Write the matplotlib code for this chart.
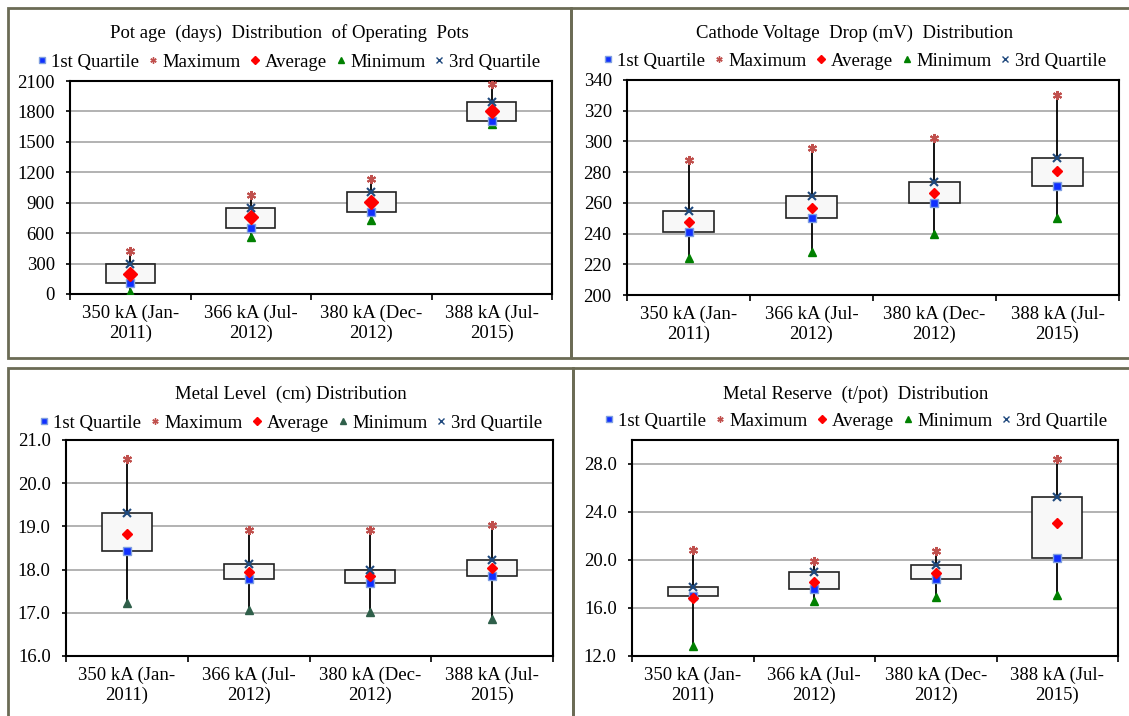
import matplotlib
matplotlib.use("Agg")
import matplotlib.pyplot as plt
from matplotlib.patches import Rectangle
from matplotlib.lines import Line2D
import numpy as np

plt.rcParams['font.family'] = ['Liberation Serif', 'DejaVu Serif']
plt.rcParams['font.size'] = 13.5

categories = ["350 kA (Jan-\n2011)", "366 kA (Jul-\n2012)", "380 kA (Dec-\n2012)", "388 kA (Jul-\n2015)"]
legend_labels = ["1st Quartile", "Maximum", "Average", "Minimum", "3rd Quartile"]

# Pot age (days)
age_q1 = [108, 654, 808, 1702]
age_max = [427, 973, 1134, 2067]
age_avg = [197, 756, 907, 1804]
age_min = [20, 565, 730, 1676]
age_q3 = [300, 844, 1005, 1893]

# Cathode voltage drop (mV)
cvd_q1 = [241, 250, 260, 271]
cvd_max = [288, 295.7, 302.5, 330.5]
cvd_avg = [247.8, 256.7, 266.7, 280.7]
cvd_min = [224, 227.7, 240, 250]
cvd_q3 = [254.5, 264.3, 273.5, 289]

# Metal level (cm)
ml_q1 = [18.42, 17.78, 17.69, 17.86]
ml_max = [20.56, 18.92, 18.92, 19.04]
ml_avg = [18.83, 17.95, 17.86, 18.04]
ml_min = [17.23, 17.07, 17.03, 16.86]
ml_q3 = [19.30, 18.14, 17.99, 18.23]

# Metal reserve (t/pot)
mr_q1 = [16.97, 17.56, 18.39, 20.17]
mr_max = [20.83, 19.89, 20.72, 28.4]
mr_avg = [16.83, 18.19, 18.92, 23.1]
mr_min = [12.8, 16.56, 16.89, 17.08]
mr_q3 = [17.78, 18.97, 19.56, 25.28]

W, H = 1129, 716
fig = plt.figure(figsize=(W / 100, H / 100), dpi=100)
fig.patch.set_facecolor('white')

def fx(x):
    return x / W

def fy(y):
    return 1 - y / H

# panel borders
border_col = '#6B6B55'
for (x0, y0, x1, y1) in [(8, 8, 571, 358), (571, 8, 1131, 358), (8, 368, 573, 720), (573, 368, 1131, 720)]:
    fig.add_artist(Rectangle((fx(x0), fy(y1)), fx(x1 - x0), (y1 - y0) / H,
                             transform=fig.transFigure, fill=False,
                             edgecolor=border_col, lw=2.0, zorder=0))

panels = [
    dict(rect=(70, 81, 552, 294), title="Pot age  (days)  Distribution  of Operating  Pots",
         tx=289, ty=33, ly=62, data=(age_q1, age_max, age_avg, age_min, age_q3),
         ylim=(0, 2100), ticks=np.arange(0, 2101, 300), fmt="{:.0f}", avg_ms=7.5, min_col='#008000'),
    dict(rect=(627, 80, 1119, 295), title="Cathode Voltage  Drop (mV)  Distribution",
         tx=855, ty=33, ly=61, data=(cvd_q1, cvd_max, cvd_avg, cvd_min, cvd_q3),
         ylim=(200, 340), ticks=np.arange(200, 341, 20), fmt="{:.0f}", avg_ms=5, min_col='#008000'),
    dict(rect=(66, 440, 553, 656), title="Metal Level  (cm) Distribution",
         tx=291, ty=394, ly=423, data=(ml_q1, ml_max, ml_avg, ml_min, ml_q3),
         ylim=(16, 21), ticks=np.arange(16, 21.01, 1), fmt="{:.1f}", avg_ms=5, min_col='#2F5F4A'),
    dict(rect=(632, 440, 1118, 656), title="Metal Reserve  (t/pot)  Distribution",
         tx=856, ty=394, ly=421, data=(mr_q1, mr_max, mr_avg, mr_min, mr_q3),
         ylim=(12, 30), ticks=np.arange(12, 29, 4), fmt="{:.1f}", avg_ms=5, min_col='#008000'),
]

q1_style = dict(marker='s', color='#1030FF', markeredgecolor='#80A0E0', markersize=5.5, mew=1.0, linestyle='none')
max_style = dict(marker=(6, 2, 0), color='#C0504D', markeredgecolor='#C0504D', markersize=6.5, mew=1.5, linestyle='none')
q3_style = dict(marker='x', color='#1F497D', markeredgecolor='#1F497D', markersize=5.5, mew=1.5, linestyle='none')

for p in panels:
    x0, y0, x1, y1 = p['rect']
    ax = fig.add_axes([fx(x0), fy(y1), fx(x1 - x0), (y1 - y0) / H])
    q1, mx, avg, mn, q3 = p['data']
    xs = np.arange(len(categories))
    ax.vlines(xs, mn, mx, color='black', lw=1.3, zorder=2)
    ax.bar(xs, np.array(q3) - np.array(q1), bottom=q1, width=0.41,
           facecolor='#F8F8F8', edgecolor='#222222', lw=1.2, zorder=3)
    avg_style = dict(marker='D', color='#FF0000', markeredgecolor='#FF0000',
                     markersize=p['avg_ms'], linestyle='none')
    min_style = dict(marker='^', color=p['min_col'], markeredgecolor=p['min_col'],
                     markersize=6, linestyle='none')
    ax.plot(xs, mn, zorder=4, **min_style)
    ax.plot(xs, q1, zorder=5, **q1_style)
    ax.plot(xs, avg, zorder=5, **avg_style)
    ax.plot(xs, q3, zorder=5, **q3_style)
    ax.plot(xs, mx, zorder=5, **max_style)

    ax.set_xlim(-0.5, len(categories) - 0.5)
    ax.set_ylim(*p['ylim'])
    ax.set_yticks(p['ticks'])
    ax.set_yticklabels([p['fmt'].format(t) for t in p['ticks']])
    ax.yaxis.grid(True, color='#A6A6A6', lw=1.2)
    ax.set_axisbelow(True)
    ax.set_xticks(np.arange(-0.5, len(categories), 1.0))
    ax.set_xticklabels([])
    ax.set_xticks(xs, minor=True)
    ax.set_xticklabels(categories, minor=True, linespacing=1.15)
    ax.tick_params(axis='x', which='minor', length=0, pad=8)
    ax.tick_params(axis='x', which='major', length=4.5, width=1.2, direction='out')
    ax.tick_params(axis='y', length=3, width=1.2, direction='out', pad=8)
    for s in ax.spines.values():
        s.set_linewidth(1.5)
        s.set_color('black')

    fig.text(fx(p['tx']), fy(p['ty']), p['title'], ha='center', va='center', fontsize=13.5)

    def small(style, ms=3.8):
        d = dict(style)
        d['markersize'] = ms
        d['mew'] = 1.0
        return d

    handles = [Line2D([], [], **small(q1_style)),
               Line2D([], [], **small(max_style, 4.5)),
               Line2D([], [], **small(avg_style, 3.8)),
               Line2D([], [], **small(min_style, 4.0)),
               Line2D([], [], **small(q3_style, 4.0))]
    fig.legend(handles, legend_labels, loc='center', bbox_to_anchor=(fx(p['tx']), fy(p['ly'])),
               ncol=5, frameon=False, handlelength=0.4, handletextpad=0.3,
               columnspacing=0.55, fontsize=13.5, borderpad=0, borderaxespad=0)

fig.savefig('out.png', dpi=100, facecolor='white')
